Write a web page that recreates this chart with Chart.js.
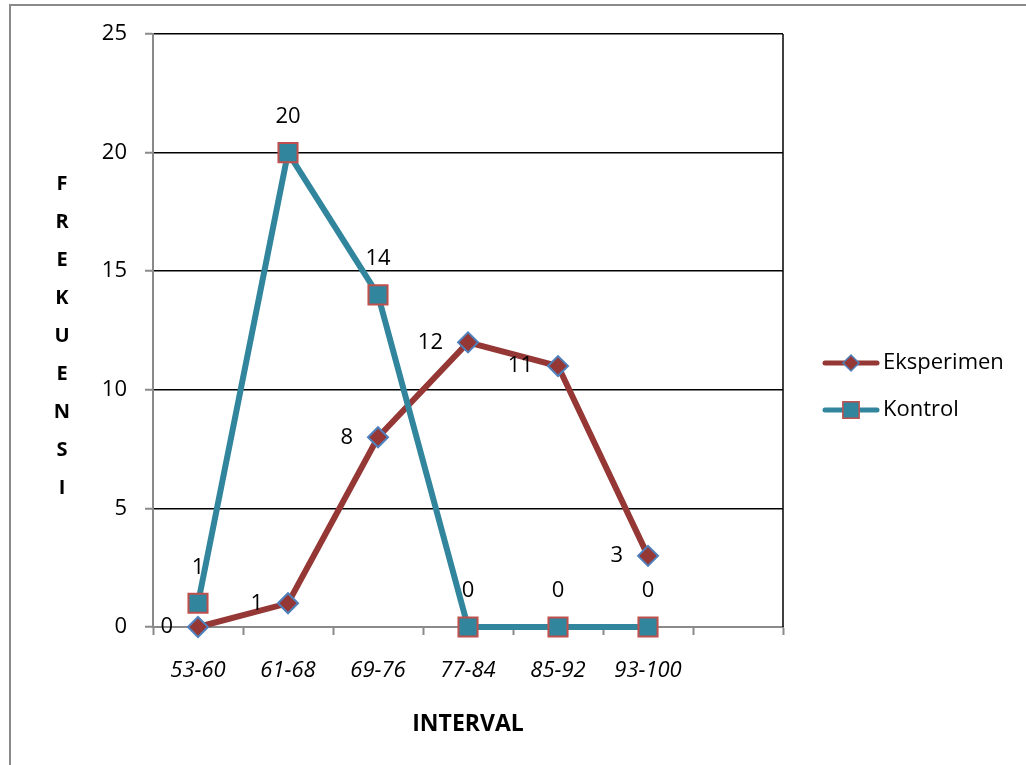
<!DOCTYPE html>
<html>
<head>
<meta charset="utf-8">
<title>Frekuensi</title>
<script src="https://cdn.jsdelivr.net/npm/chart.js@4.4.1/dist/chart.umd.min.js"></script>
<style>
	html, body { margin: 0; padding: 0; background: #fff; }
	#wrap { position: relative; width: 1026px; height: 765px; }
</style>
</head>
<body>
<div id="wrap"><canvas id="linegraph" width="1026" height="765"></canvas></div>
<script>
// categories on the x axis (last slot left empty)
var intervals = ['53-60', '61-68', '69-76', '77-84', '85-92', '93-100', ''];
var eksperimen = [0, 1, 8, 12, 11, 3];
var kontrol = [1, 20, 14, 0, 0, 0];
var yMin = 0, yMax = 25, yStep = 5;
var yTitle = 'FREKUENSI';
var xTitle = 'INTERVAL';

var FONT = "'Open Sans', 'Noto Sans', sans-serif";

// outer frame, right edge of plot, stacked y title
var framePlugin = {
	id: 'frame',
	beforeDraw: function(chart) {
		var c = chart.ctx;
		c.save();
		c.strokeStyle = '#8a8a8a';
		c.lineWidth = 2;
		c.beginPath();
		c.moveTo(10, chart.height);
		c.lineTo(10, 5);
		c.lineTo(chart.width, 5);
		c.stroke();
		c.restore();
	},
	afterDraw: function(chart) {
		var c = chart.ctx;
		var a = chart.chartArea;
		c.save();
		c.strokeStyle = '#000';
		c.lineWidth = 1.5;
		c.beginPath();
		c.moveTo(a.right, a.top);
		c.lineTo(a.right, a.bottom);
		c.stroke();

		c.fillStyle = '#000';
		c.font = 'bold 20px ' + FONT;
		c.textAlign = 'center';
		c.textBaseline = 'middle';
		var letters = yTitle.split('');
		for (var i = 0; i < letters.length; i++) {
			c.fillText(letters[i], 62, 184 + i * 38);
		}
		c.restore();
	}
};

// value labels: Eksperimen to the left of the point, Kontrol above it
var valueLabels = {
	id: 'valueLabels',
	afterDatasetsDraw: function(chart) {
		var c = chart.ctx;
		c.save();
		c.font = '22px ' + FONT;
		c.fillStyle = '#000';
		c.textBaseline = 'middle';
		chart.data.datasets.forEach(function(ds, di) {
			var meta = chart.getDatasetMeta(di);
			meta.data.forEach(function(pt, i) {
				var v = ds.data[i];
				if (v === null || v === undefined) return;
				if (ds.labelPos === 'left') {
					c.textAlign = 'right';
					c.fillText(String(v), pt.x - 25, pt.y);
				} else {
					c.textAlign = 'center';
					c.fillText(String(v), pt.x, pt.y - 36);
				}
			});
		});
		c.restore();
	}
};

// legend on the right: line with marker, then name
var sideLegend = {
	id: 'sideLegend',
	afterDraw: function(chart) {
		var c = chart.ctx;
		c.save();
		chart.data.datasets.forEach(function(ds, di) {
			var y = 363 + di * 47;
			c.strokeStyle = ds.borderColor;
			c.lineWidth = 5;
			c.lineCap = 'round';
			c.beginPath();
			c.moveTo(825, y);
			c.lineTo(877, y);
			c.stroke();
			c.fillStyle = ds.pointBackgroundColor;
			c.strokeStyle = ds.pointBorderColor;
			c.lineWidth = 1.5;
			Chart.helpers.drawPoint(c, {
				pointStyle: ds.pointStyle,
				radius: ds.legendRadius,
				borderWidth: 1.5,
				rotation: 0
			}, 851, y);
			c.fillStyle = '#000';
			c.font = '22px ' + FONT;
			c.textAlign = 'left';
			c.textBaseline = 'middle';
			c.fillText(ds.label, 883, y);
		});
		c.restore();
	}
};

var ctx = document.getElementById('linegraph');

var data = {
	labels: intervals,
	datasets: [
		{
			label: 'Eksperimen',
			data: eksperimen,
			borderColor: '#953735',
			backgroundColor: '#953735',
			pointBackgroundColor: '#953735',
			pointBorderColor: '#4F81BD',
			pointStyle: 'rectRot',
			pointRadius: 10,
			pointHoverRadius: 10,
			pointBorderWidth: 2,
			borderWidth: 6,
			tension: 0,
			fill: false,
			clip: false,
			order: 1,
			labelPos: 'left',
			legendRadius: 8
		},
		{
			label: 'Kontrol',
			data: kontrol,
			borderColor: '#31859C',
			backgroundColor: '#31859C',
			pointBackgroundColor: '#31859C',
			pointBorderColor: '#C0504D',
			pointStyle: 'rect',
			pointRadius: 13.5,
			pointHoverRadius: 13.5,
			pointBorderWidth: 2,
			borderWidth: 6,
			tension: 0,
			fill: false,
			clip: false,
			order: 0,
			labelPos: 'top',
			legendRadius: 11.5
		}
	]
};

var options = {
	responsive: false,
	animation: false,
	events: [],
	layout: {
		padding: { left: 0, top: 34, right: 243, bottom: 0 }
	},
	plugins: {
		legend: { display: false },
		title: { display: false },
		tooltip: { enabled: false }
	},
	scales: {
		x: {
			type: 'category',
			offset: true,
			afterFit: function(scale) { scale.height = 138; },
			grid: {
				offset: true,
				drawOnChartArea: false,
				drawTicks: true,
				tickLength: 8,
				tickColor: '#8a8a8a',
				tickWidth: 2,
				color: '#8a8a8a'
			},
			border: { color: '#8a8a8a', width: 2 },
			ticks: {
				color: '#000',
				padding: 23,
				maxRotation: 0,
				autoSkip: false,
				font: { family: FONT, size: 22, style: 'italic' }
			},
			title: {
				display: true,
				text: xTitle,
				color: '#000',
				padding: { top: 0, bottom: 27 },
				font: { family: FONT, size: 23, weight: 'bold' }
			}
		},
		y: {
			min: yMin,
			max: yMax,
			afterFit: function(scale) { scale.width = 153; },
			grid: {
				color: function(c) { return c.tick && c.tick.value === 0 ? 'rgba(0,0,0,0)' : '#000'; },
				lineWidth: 1.5,
				tickLength: 8,
				tickColor: '#8a8a8a',
				tickWidth: 2
			},
			border: { color: '#8a8a8a', width: 2 },
			ticks: {
				stepSize: yStep,
				color: '#000',
				padding: 18,
				font: { family: FONT, size: 22 }
			}
		}
	}
};

var chart = new Chart(ctx, {
	type: 'line',
	data: data,
	options: options,
	plugins: [framePlugin, valueLabels, sideLegend]
});
</script>
</body>
</html>
